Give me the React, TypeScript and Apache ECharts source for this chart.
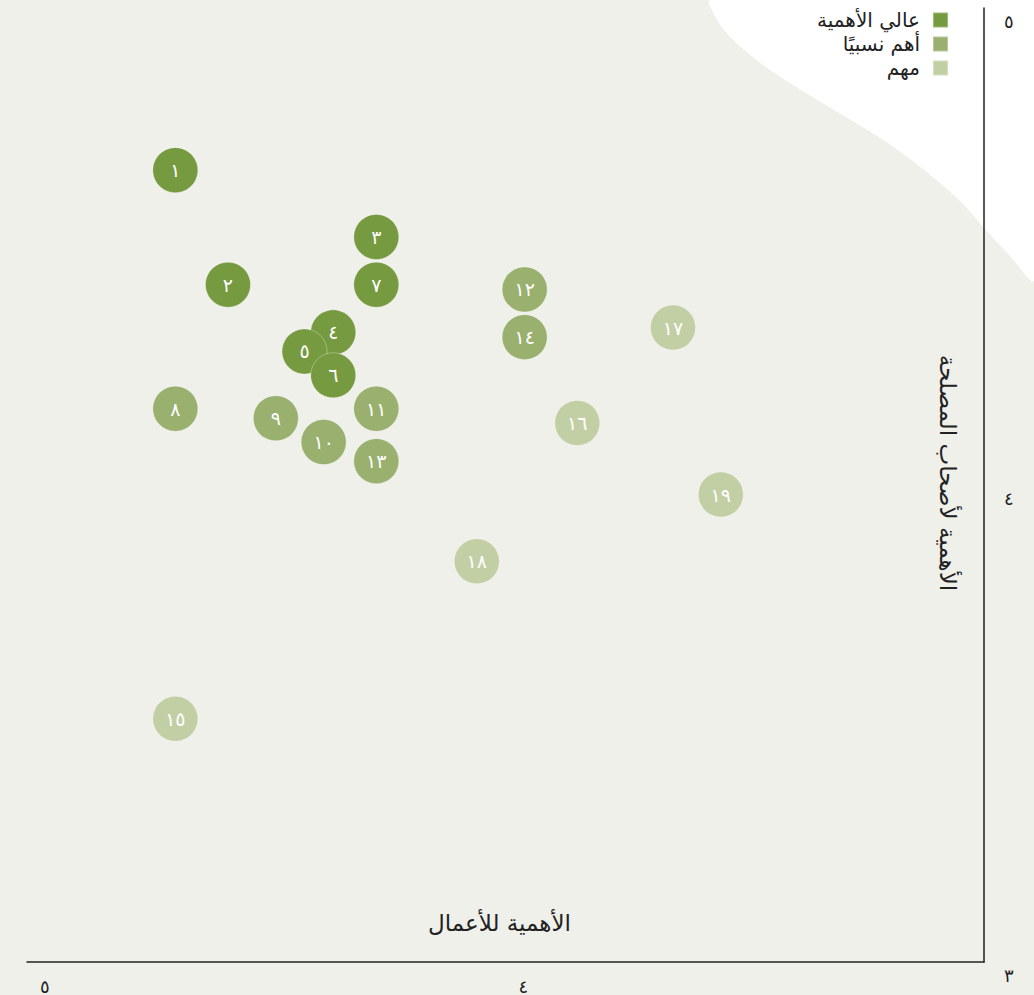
import React, { useEffect, useRef } from "react";
import * as echarts from "echarts";

// Category names (legend)
const categories = ["عالي الأهمية", "أهم نسبيًا", "مهم"];
const categoryColors = ["#769a40", "#99b06e", "#c2cfa5"];

// Topic ids and values (x = importance for business, y = importance for stakeholders)
const highIds = [1, 2, 3, 4, 5, 6, 7];
const highX = [4.69, 4.58, 4.27, 4.36, 4.42, 4.36, 4.27];
const highY = [4.66, 4.42, 4.52, 4.32, 4.28, 4.23, 4.42];

const midIds = [8, 9, 10, 11, 12, 13, 14];
const midX = [4.69, 4.48, 4.38, 4.27, 3.96, 4.27, 3.96];
const midY = [4.16, 4.14, 4.09, 4.16, 4.41, 4.05, 4.31];

const lowIds = [15, 16, 17, 18, 19];
const lowX = [4.69, 3.85, 3.65, 4.06, 3.55];
const lowY = [3.51, 4.13, 4.33, 3.84, 3.98];

const axisMin = 3;
const axisMax = 5;
const axisInterval = 1;

const xAxisName = "الأهمية للأعمال";
const yAxisName = "الأهمية لأصحاب المصلحة";

const toArabic = (n: number | string) =>
  String(n).replace(/\d/g, (d) => "٠١٢٣٤٥٦٧٨٩"[+d]);

const FONT = "'DejaVu Sans', 'Noto Sans', sans-serif";

export default function App() {
  const ref = useRef<HTMLDivElement>(null);

  useEffect(() => {
    document.body.style.margin = "0";
    document.body.style.background = "#f0f0eb";
    if (!ref.current) return;
    const chart = echarts.init(ref.current, undefined, { renderer: "svg" });

    const groups = [
      { ids: highIds, xs: highX, ys: highY },
      { ids: midIds, xs: midX, ys: midY },
      { ids: lowIds, xs: lowX, ys: lowY },
    ];

    const series = groups.map((g, gi) => ({
      name: categories[gi],
      type: "scatter",
      symbol: "circle",
      symbolSize: 45,
      itemStyle: {
        color: categoryColors[gi],
        opacity: 1,
        borderColor: "rgba(255,255,255,0.3)",
        borderWidth: 1,
      },
      label: {
        show: true,
        position: "inside",
        color: "#ffffff",
        fontSize: 19,
        fontFamily: FONT,
        formatter: (p: any) => toArabic(p.value[2]),
      },
      emphasis: { disabled: true },
      data: g.ids.map((id, i) => [g.xs[i], g.ys[i], id]),
    }));

    chart.setOption({
      animation: false,
      backgroundColor: "#f0f0eb",
      textStyle: { fontFamily: FONT },
      graphic: {
        elements: [
          {
            type: "polygon",
            z: -100,
            silent: true,
            shape: {
              points: [
                [710, 0],
                [714, 14],
                [724, 30],
                [742, 48],
                [770, 70],
                [806, 93],
                [846, 117],
                [888, 143],
                [928, 173],
                [960, 201],
                [986, 230],
                [1010, 256],
                [1034, 280],
                [1034, 0],
              ],
              smooth: 0.3,
            },
            style: { fill: "#ffffff" },
          },
        ],
      },
      legend: {
        data: categories,
        orient: "vertical",
        right: 80,
        top: 5,
        align: "right",
        icon: "rect",
        itemWidth: 15,
        itemHeight: 15,
        itemGap: 4,
        textStyle: {
          fontSize: 20,
          color: "#222",
          fontFamily: FONT,
          padding: [0, 8, 0, 0],
        },
      },
      grid: { left: 27, right: 50, top: 8, bottom: 30, containLabel: false },
      xAxis: {
        type: "value",
        min: axisMin,
        max: axisMax,
        interval: axisInterval,
        inverse: true,
        name: xAxisName,
        nameLocation: "middle",
        nameGap: -51,
        nameTextStyle: {
          fontSize: 23,
          color: "#222",
          fontFamily: FONT,
          padding: [0, 12, 0, 0],
        },
        axisLine: { show: true, lineStyle: { color: "#222", width: 1.5 } },
        axisTick: { show: false },
        splitLine: { show: false },
        axisLabel: {
          fontSize: 18,
          color: "#222",
          align: "left",
          margin: 15,
          padding: [0, 0, 0, 13],
          formatter: (v: number) => (v === axisMin ? "" : toArabic(v)),
        },
      },
      yAxis: {
        type: "value",
        position: "right",
        min: axisMin,
        max: axisMax,
        interval: axisInterval,
        name: yAxisName,
        nameLocation: "middle",
        nameRotate: -90,
        nameGap: -48,
        nameTextStyle: {
          fontSize: 23,
          color: "#222",
          fontFamily: FONT,
          padding: [0, 24, 0, 0],
        },
        axisLine: { show: true, lineStyle: { color: "#222", width: 1.5 } },
        axisTick: { show: false },
        splitLine: { show: false },
        axisLabel: {
          fontSize: 18,
          color: "#222",
          align: "left",
          verticalAlign: "top",
          margin: 20,
          padding: [4, 0, 0, 0],
          formatter: (v: number) => toArabic(v),
        },
      },
      series,
    });

    return () => chart.dispose();
  }, []);

  return <div ref={ref} style={{ width: 1034, height: 995 }} />;
}
